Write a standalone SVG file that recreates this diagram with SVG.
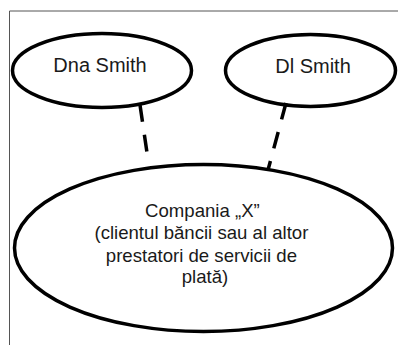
<svg xmlns="http://www.w3.org/2000/svg" width="398" height="345" viewBox="0 0 398 345">
<style>
.node ellipse{fill:none;stroke:#000;stroke-width:3.5}
.lbl{font-family:"Liberation Sans",Arial,sans-serif;fill:#1a1a1a;text-anchor:middle}
.conn line{stroke:#000;stroke-width:3.5;stroke-dasharray:17 13;fill:none}
</style>
<rect width="398" height="345" fill="#fff"/>
<path d="M9.5 345V11H398" fill="none" stroke="#555" stroke-width="1"/>
<g id="connectors" class="conn">
<line x1="140" y1="105" x2="147.5" y2="156"/>
<line x1="286" y1="103" x2="268" y2="170"/>
</g>
<g id="dna-smith" class="node">
<ellipse cx="102" cy="70.5" rx="89.5" ry="37"/>
<text class="lbl" x="100" y="72" font-size="20">Dna Smith</text>
</g>
<g id="dl-smith" class="node">
<ellipse cx="310.5" cy="70.5" rx="85" ry="36"/>
<text class="lbl" x="313" y="72.5" font-size="20">Dl Smith</text>
</g>
<g id="compania-x" class="node">
<ellipse cx="203.5" cy="248" rx="189" ry="83.5"/>
<text class="lbl" font-size="18.6">
<tspan x="205" y="217">Compania „X”</tspan>
<tspan x="204" y="239">(clientul băncii sau al altor</tspan>
<tspan x="204" y="262">prestatori de servicii de</tspan>
<tspan x="205" y="283">plată)</tspan>
</text>
</g>
</svg>
